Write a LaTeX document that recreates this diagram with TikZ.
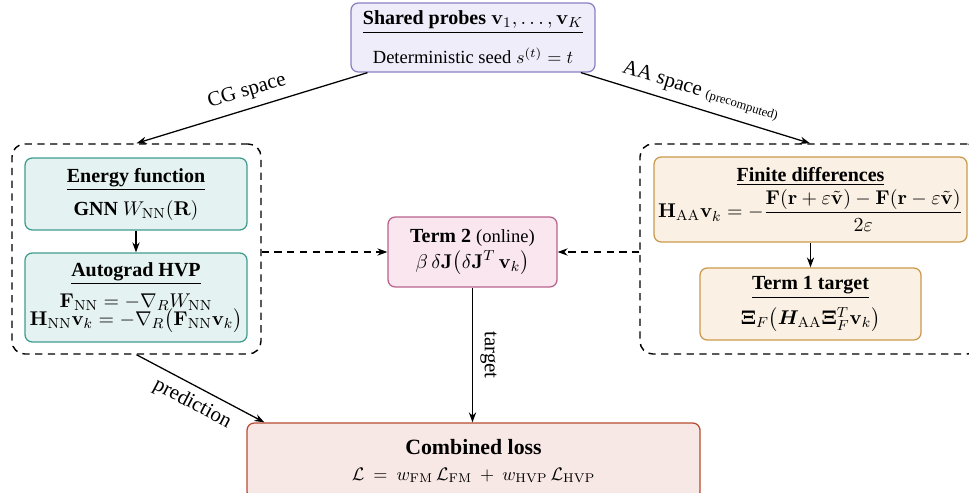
\documentclass[tikz,border=0pt]{standalone}
\usepackage[no-math]{fontspec}
\setmainfont{Liberation Serif}
\usepackage{amsmath,bm}
\usetikzlibrary{arrows.meta,calc}
\definecolor{prbfill}{HTML}{F0EDFA}\definecolor{prbdraw}{HTML}{8C7FC2}
\definecolor{tealfill}{HTML}{E4F3F1}\definecolor{tealdraw}{HTML}{3F9C8F}
\definecolor{orgfill}{HTML}{FAF0E3}\definecolor{orgdraw}{HTML}{C99A4B}
\definecolor{pinkfill}{HTML}{F9E6EF}\definecolor{pinkdraw}{HTML}{B8628C}
\definecolor{lossfill}{HTML}{F8E8E5}\definecolor{lossdraw}{HTML}{B64B30}
\begin{document}
\begin{tikzpicture}[x=0.55pt,y=-0.55pt, font=\fontsize{11}{13.2}\selectfont,
  box/.style={draw, rounded corners=4pt, line width=0.7pt, align=center, inner sep=0pt},
  dashbox/.style={draw, dashed, dash pattern=on 4pt off 3pt, rounded corners=7pt, line width=0.8pt, inner sep=0pt},
  conn/.style={line width=0.7pt, -{Stealth[length=5.5pt,width=4pt]}},
  dconn/.style={conn, dashed, dash pattern=on 4pt off 3pt},
  lbl/.style={font=\fontsize{11.5}{13.8}\selectfont}]
\useasboundingbox (0,0) rectangle (969,492);
% dashed groups
\node[dashbox, minimum width={249*0.55pt}, minimum height={210*0.55pt}] (leftdash) at (136.5,249) {};
\node[dashbox, minimum width={340*0.55pt}, minimum height={210*0.55pt}] (rightdash) at (810,249) {};
% probes
\node[box, fill=prbfill, draw=prbdraw, minimum width={244*0.55pt}, minimum height={69*0.55pt}] (probes) at (473,37.5)
  {\underline{\textbf{Shared probes} $\mathbf{v}_1,\ldots,\mathbf{v}_K$}\\[7pt] {\fontsize{10.2}{12}\selectfont Deterministic seed $s^{(t)}=t$}};
% left boxes
\node[box, fill=tealfill, draw=tealdraw, minimum width={222*0.55pt}, minimum height={72*0.55pt}] (energy) at (136,194)
  {\underline{\textbf{Energy function}}\\[5pt] \textbf{GNN} $W_{\mathrm{NN}}(\mathbf{R})$};
\node[box, fill=tealfill, draw=tealdraw, minimum width={222*0.55pt}, minimum height={89*0.55pt}] (autograd) at (136,297.5)
  {\underline{\textbf{Autograd HVP}}\\[4pt] $\mathbf{F}_{\mathrm{NN}} = -\nabla_{R} W_{\mathrm{NN}}$\\[-3.5pt]
   $\mathbf{H}_{\mathrm{NN}}\mathbf{v}_k = -\nabla_{R}\bigl(\mathbf{F}_{\mathrm{NN}}\mathbf{v}_k\bigr)$};
% right boxes
\node[box, fill=orgfill, draw=orgdraw, minimum width={313*0.55pt}, minimum height={85*0.55pt}] (fd) at (810.5,199.5)
  {\underline{\textbf{Finite differences}}\\[1pt]
   $\mathbf{H}_{\mathrm{AA}}\mathbf{v}_k = -\dfrac{\mathbf{F}(\mathbf{r}+\varepsilon\tilde{\mathbf{v}})-\mathbf{F}(\mathbf{r}-\varepsilon\tilde{\mathbf{v}})}{2\varepsilon}$};
\node[box, fill=orgfill, draw=orgdraw, minimum width={221*0.55pt}, minimum height={72*0.55pt}] (t1) at (810.5,304)
  {\underline{\textbf{Term 1 target}}\\[4pt] $\bm{\Xi}_F\bigl(\bm{H}_{\mathrm{AA}}\bm{\Xi}_F^{T}\mathbf{v}_k\bigr)$};
% term 2
\node[box, fill=pinkfill, draw=pinkdraw, minimum width={169*0.55pt}, minimum height={70*0.55pt}] (term2) at (472.5,252)
  {\textbf{Term 2} {\fontsize{10.2}{12}\selectfont (online)}\\[1pt] $\beta\,\delta\mathbf{J}\bigl(\delta\mathbf{J}^{T}\,\mathbf{v}_k\bigr)$};
% combined loss
\node[box, fill=lossfill, draw=lossdraw, minimum width={453*0.55pt}, minimum height={76*0.55pt}] (loss) at (473.5,461)
  {{\fontsize{12}{14}\selectfont\textbf{Combined loss}}\\[1pt] {\fontsize{10}{12}\selectfont $\mathcal{L} \:=\: w_{\mathrm{FM}}\,\mathcal{L}_{\mathrm{FM}} \:+\: w_{\mathrm{HVP}}\,\mathcal{L}_{\mathrm{HVP}}$}};
% connectors
\draw[conn] ($(probes.south west)!0.07!(probes.south east)$) -- node[lbl, midway, sloped, above, inner sep=4pt] {CG space} (leftdash.north);
\draw[conn] ($(probes.south west)!0.94!(probes.south east)$) -- node[lbl, midway, sloped, above, inner sep=4pt] {AA space {\scriptsize (precomputed)}} (rightdash.north);
\draw[conn] (energy) -- (autograd);
\draw[conn] (fd) -- (t1);
\draw[dconn] (leftdash.east |- term2.west) -- (term2.west);
\draw[dconn] (rightdash.west |- term2.east) -- (term2.east);
\draw[conn] (term2.south) -- node[lbl, midway, rotate=-90, anchor=south, inner sep=4pt] {target} (term2.south |- loss.north);
\draw[conn] (leftdash.south) -- node[lbl, midway, sloped, below, inner sep=4pt] {prediction} ($(loss.north west)+(18,0)$);
\end{tikzpicture}
\end{document}
